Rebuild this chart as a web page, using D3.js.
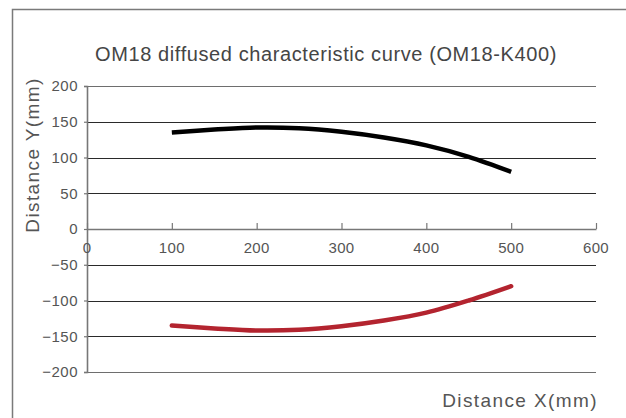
<!DOCTYPE html>
<html><head><meta charset="utf-8">
<script src="https://cdn.jsdelivr.net/npm/d3@7"></script>
<style>body{margin:0;background:#fff;}svg{display:block;font-family:"Liberation Sans",Arial,sans-serif;}</style>
</head><body>
<svg id="c" width="626" height="418"></svg>
<script>
const xTicks = [0, 100, 200, 300, 400, 500, 600];
const yTicks = [200, 150, 100, 50, 0, -50, -100, -150, -200];
const upperX = [100, 150, 200, 250, 300, 350, 400, 450, 500];
const upperY = [135, 139, 142, 141, 136, 128, 117, 101, 80];
const lowerX = [100, 150, 200, 250, 300, 350, 400, 450, 500];
const lowerY = [-135, -139, -142, -141, -136, -128, -117, -100, -80];
const titleText = "OM18 diffused characteristic curve (OM18-K400)";
const xTitle = "Distance X(mm)";
const yTitle = "Distance Y(mm)";

const svg = d3.select("#c");
const x = d3.scaleLinear().domain([0, 600]).range([87, 596]);
const y = d3.scaleLinear().domain([-200, 200]).range([372, 86]);

// outer frame
svg.append("path").attr("d", "M12.5,420 V9.5 H630")
  .attr("fill", "none").attr("stroke", "#7a7a7a").attr("stroke-width", 1.5);

// gridlines
svg.append("g").selectAll("line").data(yTicks.filter(d => d !== 0)).join("line")
  .attr("x1", x(0)).attr("x2", x(600))
  .attr("y1", d => Math.round(y(d)) + 0.5).attr("y2", d => Math.round(y(d)) + 0.5)
  .attr("stroke", d => (Math.abs(d) === 200 ? "#6e6e6e" : "#2a2a2a")).attr("stroke-width", 1.2);

// y axis
const yAxis = svg.append("g").attr("transform", `translate(${x(0)},0)`)
  .call(d3.axisLeft(y).tickValues(yTicks).tickSize(3).tickFormat(""));
yAxis.select(".domain").attr("stroke", "#777").attr("stroke-width", 1.6);
yAxis.selectAll(".tick line").attr("stroke", "#777").attr("stroke-width", 1.2);

svg.append("g").selectAll("text").data(yTicks).join("text")
  .attr("x", 78).attr("y", d => y(d)).attr("dy", "0.36em")
  .attr("text-anchor", "end").attr("font-size", 15).attr("letter-spacing", 0.5)
  .attr("fill", "#555")
  .text(d => d < 0 ? "\u2212" + Math.abs(d) : String(d));

// x axis at y=0
const xAxis = svg.append("g").attr("transform", `translate(0,${y(0)})`)
  .call(d3.axisTop(x).tickValues(xTicks).tickSize(6).tickFormat("").tickSizeOuter(0));
xAxis.select(".domain").attr("stroke", "#777").attr("stroke-width", 1.6);
xAxis.selectAll(".tick line").attr("stroke", "#777").attr("stroke-width", 1.2);

svg.append("g").selectAll("text").data(xTicks).join("text")
  .attr("x", d => x(d)).attr("y", 253)
  .attr("text-anchor", "middle").attr("font-size", 15).attr("letter-spacing", 0.3)
  .attr("fill", "#555").text(d => String(d));

// curves
const line = d3.line().x(d => x(d[0])).y(d => y(d[1])).curve(d3.curveCatmullRom);
svg.append("path").datum(upperX.map((v, i) => [v, upperY[i]]))
  .attr("d", line).attr("fill", "none").attr("stroke", "#000").attr("stroke-width", 4.5);
svg.append("path").datum(lowerX.map((v, i) => [v, lowerY[i]]))
  .attr("d", line).attr("fill", "none").attr("stroke", "#b3242f")
  .attr("stroke-width", 4.5).attr("stroke-linecap", "round");

// titles
svg.append("text").attr("x", 326).attr("y", 61).attr("text-anchor", "middle")
  .attr("font-size", 20).attr("letter-spacing", 0.6).attr("fill", "#454545").text(titleText);
svg.append("text").attr("x", 598).attr("y", 407).attr("text-anchor", "end")
  .attr("font-size", 19).attr("letter-spacing", 1.4).attr("fill", "#555").text(xTitle);
svg.append("text").attr("transform", "translate(39,155) rotate(-90)").attr("text-anchor", "middle")
  .attr("font-size", 19).attr("letter-spacing", 1.4).attr("fill", "#555").text(yTitle);
</script>
</body></html>
